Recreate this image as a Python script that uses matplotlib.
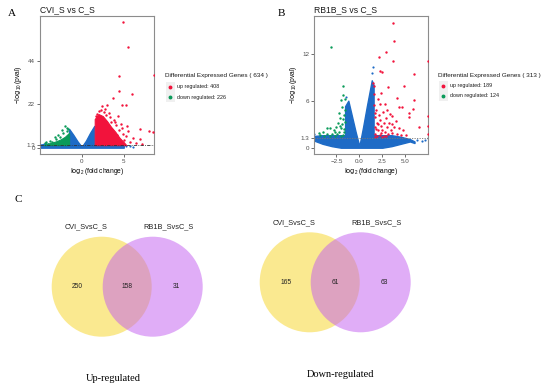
import matplotlib.pyplot as plt
from matplotlib.patches import Circle, Rectangle
from matplotlib.lines import Line2D

plt.rcParams['font.family'] = ['Liberation Sans', 'DejaVu Sans']
plt.rcParams['mathtext.default'] = 'regular'

W, H = 550, 392          # figure size in pixels
BLUE = '#1E6BC6'
RED = '#F2133C'
GREEN = '#0A9B5A'
PVAL_CUT = 1.3

# ---------------- panel A : CVI_S vs C_S ----------------
a_title = 'CVI_S vs C_S'
a_up_n, a_dn_n = 408, 226
a_xticks = [0, 5]
a_yticks = [0, 1.3, 22, 44]
a_ytick_labels = ['0', '1.3', '22', '44']
# not significant genes, envelope
a_ns_x = [-4.9, -4.5, -3.5, -2.5, -1.5, -1.5, -1.0, -0.5, 0.0, 0.5, 1.0, 1.5, 1.5, 2.5, 3.5, 4.5, 5.0]
a_ns_top = [1.4, 2.0, 2.0, 2.0, 2.0, 9.5, 6.5, 3.2, 0.4, 3.5, 7.5, 11.0, 2.0, 2.0, 2.0, 1.8, 1.0]
a_ns_low = [0.0] * len(a_ns_x)
a_ns_px = [-5.0, -4.8, 5.3, 5.7, 6.1, 8.7]
a_ns_py = [0.6, 1.1, 0.9, 0.6, 0.4, 0.4]
# dense part of the up / down regulated clouds
a_up_fx = [1.55, 1.55, 2.0, 2.5, 3.0, 3.5, 4.0, 4.5, 5.0, 5.3]
a_up_ft = [1.3, 14.5, 17.0, 16.0, 13.5, 10.5, 8.0, 5.0, 2.8, 1.3]
a_dn_fx = [-4.5, -4.0, -3.5, -3.0, -2.5, -2.0, -1.5, -1.5]
a_dn_ft = [1.3, 2.0, 2.6, 3.3, 4.2, 5.5, 7.5, 1.3]
# single points
a_up_x = [4.95, 5.55, 4.44, 8.6, 4.48, 5.95, 3.69, 2.38, 3.05, 4.76, 5.27, 2.77, 4.36, 3.37,
          5.36, 4.76, 6.93, 8.0, 8.45, 6.14, 6.93, 4.95, 5.55, 3.96, 5.27, 2.1, 1.8, 2.6, 3.2,
          3.8, 4.1, 4.4, 4.2, 5.8, 6.5, 7.2, 5.0, 4.7, 3.5, 1.7, 2.9, 2.3]
a_up_y = [63.4, 50.8, 36.5, 36.8, 28.6, 27.2, 25.2, 21.0, 21.7, 21.7, 21.7, 19.6, 16.0, 15.4,
          11.2, 9.9, 9.2, 8.2, 7.9, 4.8, 4.5, 7.0, 8.2, 12.9, 6.0, 18.5, 17.0, 18.0, 17.5,
          14.0, 11.5, 9.0, 6.5, 3.0, 2.5, 2.0, 4.0, 12.0, 13.0, 16.0, 16.5, 19.0]
a_dn_x = [-2.0, -1.8, -2.4, -2.8, -3.2, -3.8, -4.2, -4.4, -2.2, -1.7, -2.6, -3.0, -3.5, -4.0, -1.6]
a_dn_y = [11.2, 10.0, 8.7, 6.6, 5.4, 3.6, 2.9, 2.3, 7.5, 8.5, 5.5, 4.2, 3.0, 2.0, 9.2]

# ---------------- panel B : RB1B_S vs C_S ----------------
b_title = 'RB1B_S vs C_S'
b_up_n, b_dn_n = 189, 124
b_xticks = [-2.5, 0.0, 2.5, 5.0]
b_yticks = [0, 1.3, 6, 12]
b_ytick_labels = ['0', '1.3', '6', '12']
b_ns_x = [-4.9, -4.0, -3.0, -2.0, -1.55, -1.55, -1.2, -0.8, -0.4, 0.0, 0.4, 0.8, 1.35, 1.55,
          1.55, 2.5, 3.5, 4.5, 5.5, 6.0]
b_ns_top = [1.5, 1.6, 1.6, 1.6, 1.6, 5.3, 6.0, 4.0, 2.0, 0.2, 2.6, 5.2, 8.6, 8.0,
            1.6, 1.6, 1.6, 1.4, 1.1, 0.8]
b_ns_low = [0.9, 0.5, 0.2, 0.0, 0.0, 0.0, 0.0, 0.0, 0.0, 0.0, 0.0, 0.0, 0.0, 0.0,
            0.0, 0.0, 0.2, 0.5, 0.8, 0.6]
b_ns_px = [-4.95, -4.95, 6.3, 6.8, 7.1, 7.45, 1.4, 1.5, -1.4]
b_ns_py = [1.8, 1.0, 1.0, 0.9, 1.0, 1.2, 9.5, 10.3, 6.5]
b_up_fx, b_up_ft = [], []
b_dn_fx, b_dn_ft = [], []
b_up_x = [3.71, 3.79, 2.91, 2.18, 3.64, 5.9, 7.45, 2.26, 2.44, 1.53, 1.6, 3.17, 4.88, 4.08,
          5.9, 4.26, 4.62, 5.83, 5.35, 5.35, 6.44, 7.45, 7.45, 7.45,
          1.6, 1.8, 1.7, 1.9, 1.65, 2.0, 1.75, 2.2, 2.1, 2.3, 2.4, 2.5, 2.6, 2.2, 2.7, 2.8,
          2.9, 3.0, 3.1, 3.2, 3.3, 3.4, 3.5, 3.6, 3.8, 4.0, 4.1, 4.3, 4.5, 2.0, 1.6, 2.4,
          1.9, 2.5, 1.7, 3.0, 2.8, 3.6, 4.8, 5.1, 1.85, 2.05, 2.35, 2.65, 1.65, 2.95]
b_up_y = [15.9, 13.6, 12.2, 11.6, 11.1, 9.4, 11.1, 9.8, 9.6, 8.2, 7.9, 7.8, 7.9, 6.4,
          6.1, 5.2, 5.2, 5.0, 4.4, 3.9, 2.7, 4.0, 2.8, 1.7,
          5.5, 4.8, 3.9, 3.2, 2.6, 2.2, 1.8, 1.6, 4.2, 3.5, 2.8, 2.2, 4.6, 5.6, 3.2, 2.0,
          3.8, 2.6, 1.7, 3.2, 4.3, 2.3, 3.0, 1.9, 2.6, 3.4, 1.8, 2.5, 1.6, 6.2, 6.8, 7.0,
          1.5, 1.4, 1.4, 4.8, 5.6, 4.0, 2.2, 1.6, 2.4, 3.0, 1.9, 1.5, 4.4, 1.5]
b_dn_x = [-3.12, -1.75, -1.81, -2.0, -1.6, -3.2, -4.3, -4.4, -3.56,
          -1.6, -1.7, -1.8, -1.9, -2.0, -2.1, -2.2, -2.3, -2.4, -2.5, -2.6, -2.7, -2.8,
          -3.0, -3.2, -1.65, -1.75, -1.9, -2.2, -3.5, -3.8, -4.0, -1.6, -2.05, -2.15, -1.7]
b_dn_y = [12.9, 7.9, 6.7, 6.1, 6.2, 2.5, 1.6, 1.9, 2.5,
          4.8, 4.2, 3.6, 3.0, 2.5, 3.8, 2.0, 3.2, 1.7, 2.6, 2.0, 1.5, 2.3,
          1.8, 1.5, 2.0, 1.6, 5.2, 4.4, 1.7, 1.5, 2.0, 3.3, 1.5, 2.8, 2.4]

# ---------------- panel C : venn diagrams ----------------
venn_sets = ['CVI_SvsC_S', 'RB1B_SvsC_S']
venn_up = [250, 158, 31]      # only first, both, only second
venn_down = [165, 61, 63]
venn_titles = ['Up-regulated', 'Down-regulated']


def volcano(ax, title, ns, ns_pts, up_fill, dn_fill, up_pts, dn_pts,
            xlim, ylim, xticks, yticks, ytick_labels, line_style, line_color):
    ax.fill_between(ns[0], ns[2], ns[1], color=BLUE, lw=1.0, zorder=1)
    ax.scatter(*ns_pts, s=2.5, color=BLUE, lw=0, zorder=1)
    if up_fill[0]:
        ax.fill_between(up_fill[0], PVAL_CUT, up_fill[1], color=RED, lw=0.8, zorder=2)
    if dn_fill[0]:
        ax.fill_between(dn_fill[0], PVAL_CUT, dn_fill[1], color=GREEN, lw=0.8, zorder=2)
    ax.scatter(*up_pts, s=3, color=RED, lw=0, zorder=3)
    ax.scatter(*dn_pts, s=3, color=GREEN, lw=0, zorder=3)
    ax.axhline(PVAL_CUT, color=line_color, lw=0.6, ls=line_style, zorder=5)
    ax.set_xlim(*xlim)
    ax.set_ylim(*ylim)
    ax.set_xticks(xticks)
    ax.set_yticks(yticks)
    ax.set_yticklabels(ytick_labels)
    ax.tick_params(labelsize=4.5, length=2, width=0.5, pad=1.5,
                   colors='#333333', labelcolor='#4D4D4D')
    for s in ax.spines.values():
        s.set_color('#8C8C8C')
        s.set_linewidth(0.8)
    ax.set_title(title, loc='left', fontsize=6.2, pad=3, color='#1A1A1A')
    ax.set_xlabel('$\\log_2$(fold change)', fontsize=4.8, labelpad=1.5)
    ax.set_ylabel('$-\\log_{10}$(pval)', fontsize=4.8, labelpad=1.5)


def legend(fig, x, y, n_up, n_dn):
    fig.text(x / W, 1 - y / H, 'Differential Expressed Genes ( %d )' % (n_up + n_dn),
             fontsize=4.6, va='center', ha='left', color='#1A1A1A')
    for i, (lab, col) in enumerate([('up regulated: %d' % n_up, RED),
                                    ('down regulated: %d' % n_dn, GREEN)]):
        cy = y + 10.5 + i * 10.5
        fig.add_artist(Rectangle(((x + 0.5) / W, 1 - (cy + 5) / H), 9 / W, 10 / H,
                                 transform=fig.transFigure, color='#F0F0F0', lw=0))
        fig.add_artist(Line2D([(x + 5) / W], [1 - cy / H], marker='o', ms=1.8, color=col,
                              ls='', transform=fig.transFigure))
        fig.text((x + 12) / W, 1 - cy / H, lab, fontsize=3.9, va='center', ha='left',
                 color='#1A1A1A')


fig = plt.figure(figsize=(W / 100, H / 100), dpi=100)

ax_a = fig.add_axes([40 / W, 1 - 154 / H, 114 / W, 138 / H])
volcano(ax_a, a_title, (a_ns_x, a_ns_top, a_ns_low), (a_ns_px, a_ns_py),
        (a_up_fx, a_up_ft), (a_dn_fx, a_dn_ft), (a_up_x, a_up_y), (a_dn_x, a_dn_y),
        (-4.96, 8.6), (-3.2, 66.6), a_xticks, a_yticks, a_ytick_labels,
        (0, (4, 1.5, 1, 1.5)), '#333333')
legend(fig, 165, 76, a_up_n, a_dn_n)

ax_b = fig.add_axes([314.3 / W, 1 - 154 / H, 114 / W, 138 / H])
volcano(ax_b, b_title, (b_ns_x, b_ns_top, b_ns_low), (b_ns_px, b_ns_py),
        (b_up_fx, b_up_ft), (b_dn_fx, b_dn_ft), (b_up_x, b_up_y), (b_dn_x, b_dn_y),
        (-4.9, 7.5), (-0.8, 16.8), b_xticks, b_yticks, b_ytick_labels,
        (0, (1.5, 1.5)), '#777777')
legend(fig, 438, 75, b_up_n, b_dn_n)

for lab, px, py in [('A', 12, 14), ('B', 281, 13), ('C', 18, 199)]:
    fig.text(px / W, 1 - py / H, lab, family='Liberation Serif', fontsize=8,
             va='center', ha='center')

# venn diagrams drawn in pixel coordinates
ax_v = fig.add_axes([0, 0, 1, 1])
ax_v.set_xlim(0, W)
ax_v.set_ylim(H, 0)
ax_v.axis('off')
r, half = 50, 25.5
for counts, cx, cy, title, tdx in [(venn_up, 127.2, 286.7, venn_titles[0], -14),
                                   (venn_down, 335.2, 282.3, venn_titles[1], 5.5)]:
    ax_v.add_patch(Circle((cx - half, cy), r, color='#F7D423', alpha=0.5, lw=0))
    ax_v.add_patch(Circle((cx + half, cy), r, color='#C25CF0', alpha=0.5, lw=0))
    for dx, n in zip([-49.5, 0, 49.5], counts):
        ax_v.text(cx + dx, cy, str(n), fontsize=4.8, ha='center', va='center',
                  color='#222222')
    ax_v.text(cx - 41, cy - 60, venn_sets[0], fontsize=5.3, ha='center', va='center',
              color='#222222')
    ax_v.text(cx + 41, cy - 60, venn_sets[1], fontsize=5.3, ha='center', va='center',
              color='#222222')
    ax_v.text(cx + tdx, cy + 92, title, family='Liberation Serif', fontsize=7.5,
              ha='center', va='center')

fig.savefig('out.png', dpi=100)
